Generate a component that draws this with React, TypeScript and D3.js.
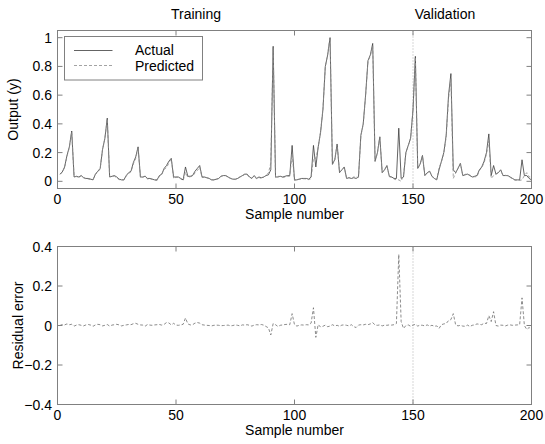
import React from "react";
import * as d3 from "d3";

// sample values, x = 1..200
const actual = [
  0.05, 0.065, 0.1, 0.18, 0.24, 0.35, 0.03, 0.035, 0.03, 0.04,
  0.025, 0.02, 0.02, 0.015, 0.01, 0.05, 0.07, 0.09, 0.22, 0.3,
  0.44, 0.03, 0.035, 0.04, 0.03, 0.015, 0.01, 0.01, 0.04, 0.06,
  0.07, 0.13, 0.17, 0.24, 0.03, 0.03, 0.035, 0.02, 0.02, 0.015,
  0.01, 0.01, 0.04, 0.05, 0.09, 0.11, 0.14, 0.16, 0.03, 0.03,
  0.03, 0.02, 0.01, 0.1, 0.035, 0.035, 0.04, 0.07, 0.09, 0.11,
  0.03, 0.03, 0.025, 0.02, 0.01, 0.01, 0.015, 0.02, 0.035, 0.04,
  0.04, 0.03, 0.02, 0.015, 0.015, 0.02, 0.03, 0.04, 0.05, 0.05,
  0.03, 0.02, 0.04, 0.02, 0.03, 0.025, 0.03, 0.04, 0.045, 0.08,
  0.94, 0.03, 0.03, 0.035, 0.03, 0.035, 0.04, 0.04, 0.25, 0.01,
  0.01, 0.015, 0.02, 0.02, 0.02, 0.015, 0.03, 0.25, 0.1, 0.24,
  0.34, 0.5, 0.8, 0.88, 1.0, 0.12, 0.15, 0.26, 0.06, 0.08,
  0.1, 0.02, 0.025, 0.02, 0.025, 0.02, 0.03, 0.32, 0.4, 0.6,
  0.84, 0.88, 0.96, 0.14, 0.2, 0.31, 0.06, 0.08, 0.11, 0.035,
  0.03, 0.02, 0.02, 0.37, 0.02, 0.03, 0.2, 0.25, 0.3, 0.5,
  0.87, 0.09, 0.12, 0.18, 0.04, 0.06, 0.07, 0.035, 0.02, 0.01,
  0.08, 0.14, 0.2, 0.32, 0.6, 0.75, 0.08, 0.06, 0.09, 0.125,
  0.04, 0.045, 0.05, 0.04, 0.03, 0.035, 0.04, 0.08, 0.1, 0.14,
  0.2, 0.33, 0.04, 0.11, 0.05, 0.06, 0.08, 0.04, 0.04, 0.04,
  0.03, 0.02, 0.01, 0.01, 0.01, 0.15, 0.04, 0.04, 0.02, 0.01,
];

// residual error = actual - predicted
const residual = [
  0.0, 0.005, 0.003, 0.008, 0.004, 0.006, -0.003, 0.002, 0.004, 0.001,
  -0.002, 0.003, 0.005, 0.002, -0.004, 0.003, 0.006, 0.004, -0.002, 0.001,
  0.005, -0.003, 0.002, 0.004, 0.006, 0.003, -0.002, 0.001, 0.003, 0.005,
  0.004, 0.009, 0.011, 0.006, 0.003, 0.002, -0.003, 0.005, 0.002, 0.001,
  0.003, 0.004, 0.005, 0.002, 0.006, 0.015, 0.013, 0.003, 0.011, 0.002,
  0.001, 0.003, 0.006, 0.038, 0.008, 0.003, 0.004, 0.012, 0.015, 0.012,
  0.004, 0.002, 0.001, 0.0, -0.002, 0.001, 0.002, 0.001, -0.001, 0.0,
  0.001, 0.002, -0.002, 0.0, 0.003, 0.001, -0.002, 0.003, 0.002, 0.004,
  0.001, -0.003, 0.002, 0.004, 0.003, 0.005, 0.002, -0.005, -0.012, -0.048,
  0.01, 0.004, -0.005, 0.001, 0.003, 0.005, 0.006, 0.004, 0.06, 0.004,
  -0.003, 0.001, 0.003, 0.002, 0.004, 0.003, 0.012, 0.09, -0.06, 0.005,
  -0.008, -0.004, 0.002, -0.006, -0.003, 0.004, -0.002, 0.001, -0.004, 0.002,
  0.003, 0.001, -0.002, 0.004, -0.006, -0.01, 0.002, 0.004, 0.003, 0.006,
  0.004, 0.008, 0.015, 0.002, 0.001, 0.003, -0.002, 0.002, 0.001, 0.003,
  0.002, 0.004, 0.01, 0.36, 0.02, -0.015, 0.0, 0.003, -0.004, 0.002,
  0.006, -0.003, 0.002, 0.001, -0.002, 0.003, -0.003, 0.001, -0.004, -0.002,
  -0.015, 0.004, 0.008, 0.01, 0.025, 0.03, 0.06, 0.003, -0.002, 0.001,
  -0.003, -0.004, 0.002, -0.005, 0.001, 0.003, 0.008, 0.006, 0.004, 0.012,
  0.01, 0.05, 0.02, 0.07, 0.0, -0.003, 0.002, 0.001, -0.002, 0.002,
  0.003, 0.001, 0.002, 0.003, 0.004, 0.14, 0.0, -0.02, -0.01, -0.02,
];

const predicted = actual.map((a, i) => a - residual[i]);

const xTicks = [0, 50, 100, 150, 200];
const yTopTicks = [0, 0.2, 0.4, 0.6, 0.8, 1];
const yBotTicks = [-0.4, -0.2, 0, 0.2, 0.4];
const splitAt = 150;

const font = "'Liberation Sans', Arial, Helvetica, sans-serif";
const axisColor = "#808080";

const left = 57.5;
const right = 531.5;

const x = d3.scaleLinear().domain([0, 200]).range([left, right]);
const yTop = d3.scaleLinear().domain([-0.05, 1.05]).range([188.5, 30.5]);
const yBot = d3.scaleLinear().domain([-0.4, 0.4]).range([404.5, 246.5]);

const fmt = (v: number) => (Math.abs(v) < 1e-9 ? "0" : d3.format("")(+v.toFixed(1)));

function Panel({ y, yTicks, series, ylabel, labelX }: any) {
  const [y0, y1] = y.range();
  const tick = 5;
  return (
    <g>
      <rect x={left} y={y1} width={right - left} height={y0 - y1} fill="white" stroke="none" />
      <line x1={x(splitAt)} x2={x(splitAt)} y1={y1} y2={y0} stroke="#9a9a9a" strokeWidth={0.8} strokeDasharray="1,2" />
      {series.map((s: any, k: number) => (
        <path
          key={k}
          d={d3.line<number>().x((_, i) => x(i + 1)).y((v) => y(v))(s.values) || ""}
          fill="none"
          stroke={s.color}
          strokeWidth={0.8}
          strokeDasharray={s.dash}
        />
      ))}
      <rect x={left} y={y1} width={right - left} height={y0 - y1} fill="none" stroke={axisColor} strokeWidth={1} />
      {xTicks.map((t) => (
        <g key={"x" + t}>
          <line x1={x(t)} x2={x(t)} y1={y0} y2={y0 - tick} stroke={axisColor} />
          <line x1={x(t)} x2={x(t)} y1={y1} y2={y1 + tick} stroke={axisColor} />
          <text x={x(t)} y={y0 + 15.5} textAnchor="middle" fontSize={14} fontFamily={font}>
            {t}
          </text>
        </g>
      ))}
      {yTicks.map((t: number) => (
        <g key={"y" + t}>
          <line x1={left} x2={left + tick} y1={y(t)} y2={y(t)} stroke={axisColor} />
          <line x1={right} x2={right - tick} y1={y(t)} y2={y(t)} stroke={axisColor} />
          <text x={52} y={y(t)} dy="0.36em" textAnchor="end" fontSize={14} fontFamily={font}>
            {fmt(t)}
          </text>
        </g>
      ))}
      <text x={(left + right) / 2} y={y0 + 30.5} textAnchor="middle" fontSize={14} fontFamily={font}>
        Sample number
      </text>
      <text
        transform={`translate(${labelX},${(y0 + y1) / 2}) rotate(-90)`}
        textAnchor="middle"
        fontSize={14}
        fontFamily={font}
      >
        {ylabel}
      </text>
    </g>
  );
}

export default function App() {
  return (
    <svg width={545} height={444} style={{ position: "absolute", left: 0, top: 0, background: "white" }}>
      <rect width={545} height={444} fill="white" />
      <text x={196} y={19} textAnchor="middle" fontSize={14} fontFamily={font}>
        Training
      </text>
      <text x={445} y={19} textAnchor="middle" fontSize={14} fontFamily={font}>
        Validation
      </text>
      <Panel
        y={yTop}
        yTicks={yTopTicks}
        ylabel="Output (y)"
        labelX={18}
        series={[
          { values: actual, color: "#3c3c3c" },
          { values: predicted, color: "#8c8c8c", dash: "3,2" },
        ]}
      />
      <Panel
        y={yBot}
        yTicks={yBotTicks}
        ylabel="Residual error"
        labelX={23}
        series={[{ values: residual, color: "#6e6e6e", dash: "3,2" }]}
      />
      {/* legend */}
      <g>
        <rect x={64.5} y={36.5} width={138} height={43.5} fill="white" stroke={axisColor} />
        <line x1={74} x2={112.5} y1={50.5} y2={50.5} stroke="#3c3c3c" strokeWidth={0.8} />
        <line x1={74} x2={112.5} y1={65.5} y2={65.5} stroke="#8c8c8c" strokeWidth={0.8} strokeDasharray="3,2" />
        <text x={135} y={55} fontSize={14} fontFamily={font}>
          Actual
        </text>
        <text x={135} y={71} fontSize={14} fontFamily={font}>
          Predicted
        </text>
      </g>
    </svg>
  );
}
